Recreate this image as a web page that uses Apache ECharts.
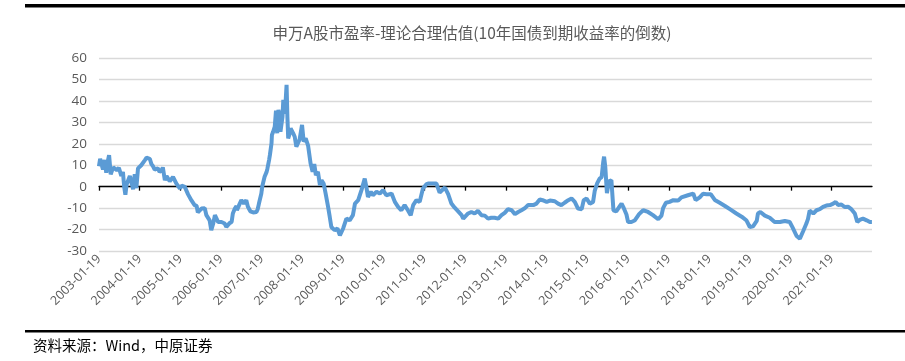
<!DOCTYPE html>
<html>
<head>
<meta charset="utf-8">
<script src="https://cdn.jsdelivr.net/npm/echarts@6/dist/echarts.min.js"></script>
<style>
html,body{margin:0;padding:0;background:#fff;}
#c{width:905px;height:361px;}
</style>
</head>
<body>
<div id="c"></div>
<script>
// Decimal year of each observation
var years = [
2003.05,2003.08,2003.12,2003.15,2003.17,2003.19,2003.23,2003.27,2003.30,2003.34,2003.40,2003.44,2003.49,2003.54,2003.60,2003.64,2003.67,2003.70,2003.73,2003.77,2003.81,2003.84,2003.89,2003.93,2003.97,2004.01,
2004.09,2004.13,2004.18,2004.22,2004.26,2004.30,2004.34,2004.38,2004.42,2004.50,2004.54,2004.59,2004.62,2004.67,2004.71,2004.75,2004.79,2004.83,2004.87,2004.90,2004.95,2004.99,
2005.04,2005.08,2005.12,2005.16,2005.24,2005.32,2005.40,2005.45,2005.48,2005.51,2005.57,2005.61,2005.65,2005.69,2005.73,2005.77,2005.81,2005.86,2005.90,2005.98,
2006.06,2006.10,2006.14,2006.18,2006.22,2006.26,2006.31,2006.34,2006.39,2006.43,2006.44,2006.51,2006.55,2006.59,2006.61,2006.67,2006.71,2006.77,2006.84,2006.92,2006.95,2006.98,
2007.04,2007.06,2007.08,2007.12,2007.17,2007.19,2007.23,2007.25,2007.29,2007.30,2007.33,2007.37,2007.40,2007.43,2007.46,2007.49,2007.51,2007.56,2007.58,2007.62,2007.66,2007.68,2007.70,2007.74,2007.76,2007.80,2007.82,2007.86,2007.90,2007.93,2007.98,
2008.04,2008.08,2008.11,2008.13,2008.19,2008.25,2008.27,2008.30,2008.32,2008.34,2008.38,2008.42,2008.43,2008.48,2008.52,2008.57,2008.60,2008.62,2008.68,2008.72,2008.76,2008.84,2008.91,2008.97,
2009.01,2009.05,2009.13,2009.21,2009.29,2009.34,2009.42,2009.50,2009.58,2009.62,2009.66,2009.73,2009.78,2009.87,2009.95,
2010.03,2010.11,2010.24,2010.32,2010.40,2010.48,2010.56,2010.64,2010.71,2010.77,2010.85,2010.93,
2011.01,2011.10,2011.15,2011.22,2011.34,2011.42,2011.55,2011.63,2011.71,2011.79,2011.87,2011.96,
2012.00,2012.04,2012.12,2012.20,2012.28,2012.36,2012.45,2012.49,2012.53,2012.61,2012.69,2012.77,2012.86,2012.90,2012.94,
2013.02,2013.10,2013.19,2013.27,2013.35,2013.43,2013.51,2013.59,2013.63,2013.72,2013.80,2013.88,2013.95,
2014.05,2014.13,2014.25,2014.33,2014.41,2014.49,2014.58,2014.66,2014.74,2014.82,2014.86,2014.91,2014.96,
2015.03,2015.11,2015.19,2015.23,2015.29,2015.33,2015.35,2015.40,2015.44,2015.46,2015.49,2015.53,2015.55,2015.58,2015.64,2015.66,2015.69,2015.76,2015.85,2015.89,2015.93,2015.97,
2016.01,2016.05,2016.13,2016.21,2016.32,2016.42,2016.54,2016.66,2016.79,2016.87,2016.91,2016.98,
2017.07,2017.16,2017.28,2017.36,2017.40,2017.52,2017.65,2017.67,2017.71,2017.81,2017.89,2017.98,
2018.08,2018.18,2018.30,2018.43,2018.55,2018.71,2018.84,2018.96,
2019.04,2019.12,2019.21,2019.24,2019.30,2019.41,2019.53,2019.65,2019.78,2019.90,
2020.02,2020.09,2020.19,2020.27,2020.31,2020.35,2020.43,2020.47,2020.51,2020.60,2020.68,2020.76,2020.84,2020.92,
2021.01,2021.09,2021.15,2021.21,2021.29,2021.37,2021.46,2021.54,2021.62,2021.68,2021.74,2021.82,2021.91,2021.99,2022.04
];
// 申万A股市盈率 - 理论合理估值
var values = [
9.5,13,10,8,11,12.4,6.5,12,14.7,5.8,9,8.5,7.7,8.8,5,6.9,0,-3.8,1,0.5,5,5.4,-1.2,5.8,-0.7,8.5,
10,10.8,12.4,13.5,14.3,13,10.5,9.5,8,8.5,6.9,7.5,9,3,5,5,2.5,3,4.6,3.8,1.5,0.7,
-0.9,0.5,0.7,-0.1,-3.6,-6.3,-8.6,-9,-12,-12.5,-10.2,-11,-10,-13.3,-14,-15.7,-20.3,-17,-13.3,-16.5,
-16.5,-17,-17.2,-18.8,-18.5,-17,-16.5,-12.5,-10.2,-9,-11,-7.9,-6.3,-7.1,-7.9,-6.3,-9.4,-11.5,-12,-11.8,-10.5,-8,
-3.2,-0.1,1.5,4.6,6.9,8.5,12.4,14.7,20.2,24.1,25.6,28,35.5,24.9,35.8,33,25.6,32.6,40.5,34,47.5,32.6,22.5,24.9,27.2,27.2,25,23.3,18.6,18.6,22,
28.8,21,21.7,22.5,19,10.8,11.6,6.9,6.2,10.5,5.4,4.6,6.9,0.7,3,1.5,1.5,-3.2,-9.4,-14,-18.8,-20.3,-19.5,-22.7,
-23.5,-19.5,-14.9,-15.7,-13.3,-7.9,-6.3,-1.6,3.8,-0.1,-4.8,-2.4,-4,-2.4,-3.2,
-1.6,-4,-3.2,-7.1,-9.4,-11,-8.6,-11,-13.3,-8.6,-6.3,-7.1,
-0.9,1.2,1.5,1.5,1.5,-2.8,-0.4,-3.5,-7.9,-9.8,-11.4,-13.3,
-14.9,-14.9,-12.5,-11.8,-12.5,-11.3,-13.3,-14.1,-13.5,-14.9,-14.5,-14.5,-14.9,-14.8,-13.3,
-12.2,-10.5,-11,-12.8,-11.8,-11,-10.1,-8.6,-7.9,-8.6,-7.9,-6,-6.3,
-7.1,-6.5,-6.8,-7.9,-8.6,-7.5,-6.3,-5.5,-7.1,-10.2,-11,-10.5,-6.3,
-5.5,-7.9,-7.1,-2,1.5,2.3,3.8,4.5,11.6,14,9.2,-3,-2.4,2.5,3,3,-11,-11.5,-9,-7.9,-9.4,-9.4,
-13,-16.5,-16.5,-15.8,-12.8,-11,-11.8,-13.3,-15.2,-13.5,-10,-7.5,
-7.1,-6.3,-6.5,-5,-4.8,-4,-3.2,-2.9,-6.3,-5,-3.3,-3.5,
-3.5,-6.2,-7.5,-9,-10.5,-12.5,-14,-15.8,
-18.8,-18.5,-16,-12.5,-11.8,-13.5,-14.5,-16.5,-16.5,-16,
-16.5,-19,-23,-24.2,-24.2,-20.8,-17.2,-15,-11.2,-12.5,-11,-10.5,-9.4,-8.8,
-8.6,-7.9,-7.1,-8.5,-8.3,-9.5,-9.4,-10.6,-12.5,-16.5,-15.5,-14.9,-15.7,-16.5,-16.5
];
var startYear = 2003, endYear = 2022, dayOffset = 0.052; // ticks on Jan 19
var tickYears = [];
for (var y = startYear; y < endYear; y++) tickYears.push(y + dayOffset);

var titleText = '申万A股市盈率-理论合理估值(10年国债到期收益率的倒数)';
var sourceText = '资料来源：Wind，中原证券';

var data = years.map(function(x, i){ return [x, values[i]]; });

var chart = echarts.init(document.getElementById('c'), null, {renderer:'canvas'});
var xMin = startYear + dayOffset, xMax = endYear + dayOffset - 0.01;
chart.setOption({
  animation: false,
  backgroundColor: '#ffffff',
  title: {
    text: titleText, left: 467, top: 20, textAlign: 'center',
    textStyle: {fontFamily: '"Noto Sans CJK SC"', fontSize: 15.5, fontWeight: 'normal', color: '#595959'}
  },
  grid: {left: 99, right: 33, top: 58, bottom: 110, containLabel: false},
  xAxis: [{
    type: 'value', min: xMin, max: xMax,
    axisLine: {show: true, onZero: true, lineStyle: {color: '#000', width: 1.3}},
    axisTick: {show: true, length: 4, inside: false, customValues: tickYears, lineStyle: {color: '#000', width: 1.3}},
    axisLabel: {show: false},
    splitLine: {show: false}
  },{
    type: 'value', min: xMin, max: xMax, position: 'bottom',
    axisLine: {show: false, onZero: false},
    axisTick: {show: false},
    splitLine: {show: false},
    axisLabel: {
      show: true, rotate: 45, margin: 6, customValues: tickYears,
      fontFamily: 'Open Sans', fontSize: 12.5, color: '#595959',
      formatter: function(v){ return Math.round(v - dayOffset) + '-01-19'; }
    }
  }],
  yAxis: {
    type: 'value', min: -30, max: 60, interval: 10,
    axisLine: {show: false}, axisTick: {show: false},
    axisLabel: {fontFamily: 'Open Sans', fontSize: 13.5, color: '#595959', margin: 12},
    splitLine: {show: true, lineStyle: {color: '#d9d9d9', width: 1.3}}
  },
  series: [{
    type: 'line', data: data, xAxisIndex: 0, showSymbol: false, smooth: false,
    lineStyle: {color: '#5b9bd5', width: 4}, z: 3
  }],
  graphic: [
    {type: 'rect', shape: {x: 25, y: 4, width: 880, height: 3.5}, style: {fill: '#000'}},
    {type: 'rect', shape: {x: 25, y: 330, width: 880, height: 2.5}, style: {fill: '#000'}},
    {type: 'text', left: 33, top: 338, style: {text: sourceText, font: '14.5px "Noto Sans CJK SC"', fill: '#000'}}
  ]
});
</script>
</body>
</html>
